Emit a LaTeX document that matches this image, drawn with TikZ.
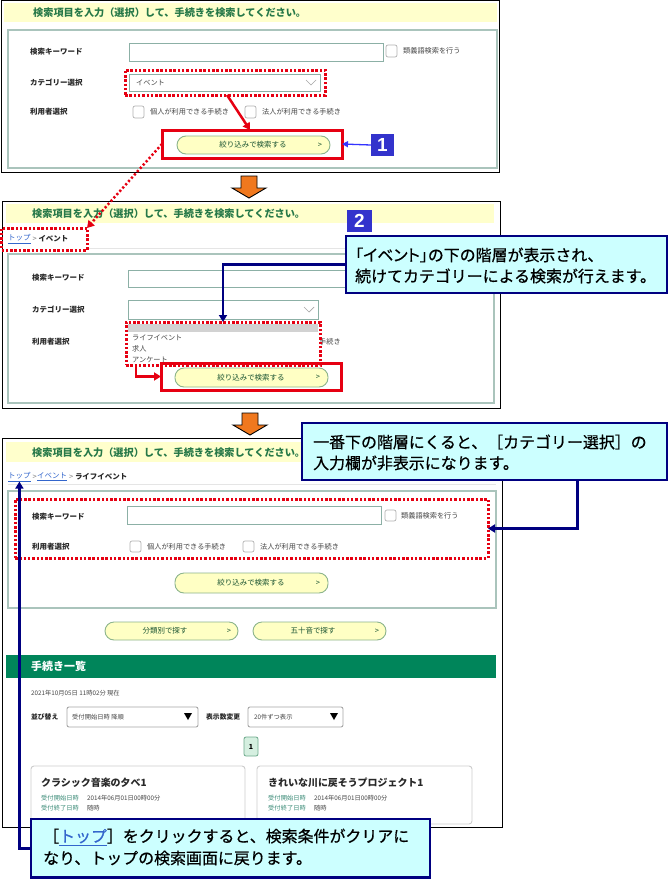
\documentclass[tikz,border=0pt]{standalone}
\usepackage{fontspec}
\setmainfont{Noto Sans CJK JP}
\newfontfamily\arialfont{Liberation Sans}
\newfontfamily\calfont{Noto Sans CJK JP}[FakeBold=0.6]
\newfontfamily\calpalt{Noto Sans CJK JP}[FakeBold=0.6,RawFeature=+palt]
\usetikzlibrary{arrows.meta,calc}
\definecolor{titlegreen}{RGB}{38,120,72}
\definecolor{ybarc}{RGB}{255,255,204}
\definecolor{boxgrey}{RGB}{170,196,188}
\definecolor{inputb}{RGB}{140,176,166}
\definecolor{btnfill}{RGB}{255,255,196}
\definecolor{btnb}{RGB}{140,180,140}
\definecolor{redc}{RGB}{230,0,18}
\definecolor{navyc}{RGB}{0,0,128}
\definecolor{cfill}{RGB}{204,255,255}
\definecolor{linkblue}{RGB}{51,102,204}
\definecolor{numblue}{RGB}{51,51,204}
\definecolor{arrblue}{RGB}{51,51,255}
\definecolor{orangec}{RGB}{240,120,30}
\definecolor{greenbar}{RGB}{0,133,90}
\definecolor{labeldark}{RGB}{40,40,40}
\definecolor{smgrey}{RGB}{70,70,70}
\definecolor{tealc}{RGB}{60,140,120}
\definecolor{pagefill}{RGB}{213,239,224}
\definecolor{pageb}{RGB}{110,170,140}
\newcommand{\bx}[6]{\node[#1,inner sep=0pt,outer sep=0pt,minimum width={(#4-(#2))*1bp},minimum height={(#5-(#3))*1bp}] (#6) at ({(#2+#4)/2},{(#3+#5)/2}) {};}
\begin{document}
\begin{tikzpicture}[x=1bp,y=-1bp,
  panel/.style={draw=black,line width=0.9bp,fill=white},
  ybar/.style={fill=ybarc},
  inner/.style={draw=boxgrey,line width=1.3bp},
  inp/.style={draw=inputb,line width=0.9bp,fill=white},
  cbox/.style={draw=gray!60,rounded corners=2bp,fill=white,line width=0.7bp},
  btn/.style={draw=btnb,fill=btnfill,rounded corners=9bp,line width=0.9bp},
  lbl/.style={font=\fontsize{7.5}{9}\selectfont\bfseries,text=labeldark,anchor=west,inner sep=0pt},
  sm/.style={font=\fontsize{7.2}{9}\selectfont,text=smgrey,anchor=west,inner sep=0pt},
  btxt/.style={font=\fontsize{7.5}{9}\selectfont,text=titlegreen!70!black,inner sep=0pt},
  ttl/.style={font=\fontsize{10.2}{12}\selectfont\bfseries,text=titlegreen,anchor=west,inner sep=0pt},
  callout/.style={draw=navyc,line width=2.6bp,fill=cfill},
  ctext/.style={font=\calfont\fontsize{16}{18}\selectfont,text=black,anchor=west,inner sep=0pt},
  redbox/.style={draw=redc,line width=3bp},
  reddot/.style={draw=redc,line width=3bp,dash pattern=on 2.5bp off 1.8bp},
  redarrow/.style={draw=redc,line width=2.5bp,-{Triangle[length=7bp,width=8bp]}},
  reddotarrow/.style={draw=redc,line width=2.5bp,dash pattern=on 2.2bp off 2.2bp,-{Triangle[length=7bp,width=8bp]}},
  navyarrow/.style={draw=navyc,line width=2.6bp,-{Triangle[length=7bp,width=8bp]}},
  thinblue/.style={draw=arrblue,line width=1.3bp,-{Triangle[length=6bp,width=6bp]}},
  numbox/.style={fill=numblue,text=white,font=\arialfont\fontsize{19}{20}\selectfont\bfseries,inner sep=0pt},
  chev/.style={draw=gray!70,line width=0.7bp},
  orangearrow/.style={draw=black,line width=0.9bp,fill=orangec},
  bclink/.style={font=\fontsize{7.5}{9}\selectfont,text=linkblue,anchor=west,inner sep=0pt},
  bctext/.style={font=\fontsize{7.5}{9}\selectfont,text=labeldark,anchor=west,inner sep=0pt},
  card/.style={draw=gray!40,line width=0.9bp,rounded corners=3bp,fill=white},
  cardt/.style={font=\fontsize{10}{12}\selectfont\bfseries,text=labeldark,anchor=west,inner sep=0pt},
  cardl/.style={font=\fontsize{6.3}{8}\selectfont,text=tealc,anchor=west,inner sep=0pt},
  cardv/.style={font=\fontsize{6.3}{8}\selectfont,text=smgrey,anchor=west,inner sep=0pt},
  seld/.style={draw=gray!70,line width=0.9bp,rounded corners=2bp,fill=white},
  sep/.style={draw=gray!20,line width=0.8bp}
]
\useasboundingbox[fill=white] (0,0) rectangle (669,879);

% ================= Panel 1 =================
\bx{panel}{1.5}{0.5}{499.5}{172}{p1}
\bx{ybar}{4}{2.5}{497}{22}{y1}
\node[ttl] (t1) at (33,12.5) {検索項目を入力（選択）して、手続きを検索してください。};
\bx{inner}{8}{30}{497}{168}{i1}
\node[lbl] (k1) at (30,52) {検索キーワード};
\bx{inp}{129}{43}{383}{61}{kin1}
\bx{cbox}{386}{45}{397}{57}{cb1}
\node[sm] (s1) at (403,51) {類義語検索を行う};
\node[lbl] (cl1) at (30,83) {カテゴリー選択};
\bx{inp}{129}{74}{320}{91}{dd1in}
\node[sm] (ev1) at (136,82.5) {イベント};
\draw[chev] (306,80) -- (311,85) -- (316,80);
\bx{reddot}{125}{70}{325}{95}{dd1}
\node[lbl] (u1) at (30,112) {利用者選択};
\bx{cbox}{133}{106}{144}{118}{cb2}
\node[sm] (ko1) at (150,112) {個人が利用できる手続き};
\bx{cbox}{245}{106}{256}{118}{cb3}
\node[sm] (ho1) at (262,112) {法人が利用できる手続き};
\bx{btn}{177}{136}{330}{154}{b1}
\node[btxt] (b1t) at (253,145) {絞り込みで検索する};
\node[btxt] (b1g) at (320,145) {>};
\bx{redbox}{162}{130}{342}{158}{rb1}
\node[numbox,minimum width=23bp,minimum height=22bp] (n1) at (382.5,145) {1};

% orange arrow 1
\draw[orangearrow] (241,176) -- (257,176) -- (257,188) -- (266,188) -- (249,198) -- (232,188) -- (241,188) -- cycle;

% ================= Panel 2 =================
\bx{panel}{2}{201}{500}{408}{p2}
\bx{ybar}{6}{204}{494}{223}{y2}
\node[ttl] (t2) at (32,213.5) {検索項目を入力（選択）して、手続きを検索してください。};
\node[bclink] (bc2a) at (8,239) {\underline{トップ}};
\node[bctext] (bc2b) at (bc2a.east) {\ {\color{gray}>}\ \textbf{イベント}};
\draw[sep] (88,248) -- (494,248);
\bx{inner}{8}{254}{494}{403}{i2}
\node[lbl] (k2) at (32,278) {検索キーワード};
\bx{inp}{128}{270}{420}{287}{kin2}
\node[lbl] (cl2) at (32,310) {カテゴリー選択};
\bx{inp}{128}{300}{318}{319}{dd2in}
\draw[chev] (304,307) -- (309,312) -- (314,307);
\node[lbl] (u2) at (32,342) {利用者選択};
\node[sm] (te2) at (319,342) {手続き};
\bx{btn}{175}{368}{328}{387}{b2}
\node[btxt] (b2t) at (251,377.5) {絞り込みで検索する};
\node[btxt] (b2g) at (318,377.5) {>};
% dropdown list
\bx{draw=none,fill=white}{126}{322}{320}{365}{lst}
\fill[gray!35] (128,324) rectangle (318,332);
\node[sm] (li1) at (132,338) {ライフイベント};
\node[sm] (li2) at (132,349) {求人};
\node[sm] (li3) at (132,359.5) {アンケート};
\bx{reddot}{126}{322}{320}{365}{dd2}
\bx{redbox}{161}{363}{341}{390}{rb2}
\bx{reddot}{1.5}{228}{87}{250}{bc2}
% callout 2
\bx{callout}{346}{236}{667}{293}{c2}
\node[ctext] (c2a) at (355,255) {{\calpalt「イベント」}の下の階層が表示され、};
\node[ctext] (c2b) at (355,276) {続けてカテゴリーによる検索が行えます。};
\node[numbox,minimum width=25bp,minimum height=22bp] (n2) at (359.5,221) {2};

% orange arrow 2
\draw[orangearrow] (242,413) -- (258,413) -- (258,425) -- (267,425) -- (250,435) -- (233,425) -- (242,425) -- cycle;

% ================= Panel 3 =================
\bx{panel}{2}{438}{502}{827}{p3}
\bx{ybar}{6}{442}{496}{462}{y3}
\node[ttl] (t3) at (32,452.5) {検索項目を入力（選択）して、手続きを検索してください。};
\node[bclink] (bc3a) at (8,477) {\underline{トップ}};
\node[bctext] (bc3b) at (bc3a.east) {\ {\color{gray}>}\ };
\node[bclink] (bc3c) at (bc3b.east) {\underline{イベント}};
\node[bctext] (bc3d) at (bc3c.east) {\ {\color{gray}>}\ \textbf{ライフイベント}};
\draw[sep] (8,484) -- (496,484);
\bx{inner}{8}{491}{496}{608}{i3}
\node[lbl] (k3) at (32,517) {検索キーワード};
\bx{inp}{127}{506}{381}{524}{kin3}
\bx{cbox}{385}{510}{396}{521}{cb4}
\node[sm] (s3) at (401,516) {類義語検索を行う};
\node[lbl] (u3) at (32,547) {利用者選択};
\bx{cbox}{130}{541}{141}{552}{cb5}
\node[sm] (ko3) at (147,547) {個人が利用できる手続き};
\bx{cbox}{243}{541}{254}{552}{cb6}
\node[sm] (ho3) at (260,547) {法人が利用できる手続き};
\bx{reddot}{15}{499}{488}{558}{dd3}
\bx{btn}{175}{573}{328}{593}{b3}
\node[btxt] (b3t) at (251,583) {絞り込みで検索する};
\node[btxt] (b3g) at (318,583) {>};
\bx{btn}{105}{622}{238}{640}{b4}
\node[btxt] (b4t) at (165,631) {分類別で探す};
\node[btxt] (b4g) at (229,631) {>};
\bx{btn}{253}{622}{386}{640}{b5}
\node[btxt] (b5t) at (313,631) {五十音で探す};
\node[btxt] (b5g) at (377,631) {>};
\bx{fill=greenbar}{6}{655}{496}{678}{gb}
\node[font=\fontsize{11}{13}\selectfont\bfseries,text=white,anchor=west,inner sep=0pt] (gbt) at (31,666.5) {手続き一覧};
\node[cardv] (dt) at (31,693) {2021年10月05日 11時02分 現在};
\node[lbl,font=\fontsize{6.8}{8}\selectfont\bfseries] (nb) at (31,717) {並び替え};
\bx{seld}{67}{707}{198}{727}{sel1}
\node[cardv] (sel1t) at (72,717) {受付開始日時 降順};
\fill[black] (184,713) -- (192,713) -- (188,720) -- cycle;
\node[lbl,font=\fontsize{6.8}{8}\selectfont\bfseries] (hy) at (206,717) {表示数変更};
\bx{seld}{248}{707}{343}{727}{sel2}
\node[cardv] (sel2t) at (254,717) {20件ずつ表示};
\fill[black] (330,713) -- (338,713) -- (334,720) -- cycle;
\node[draw=pageb,fill=pagefill,rounded corners=2bp,line width=0.8bp,minimum width=14bp,minimum height=19bp,inner sep=0pt,font=\fontsize{7}{8}\selectfont\bfseries] (pg) at (251,746.5) {1};
\bx{card}{31}{766}{245}{824}{cd1}
\node[cardt] (cd1t) at (41,783) {クラシック音楽の夕べ1};
\node[cardl] (cd1a) at (41,798) {受付開始日時};
\node[cardv] (cd1b) at (87,798) {2014年06月01日00時00分};
\node[cardl] (cd1c) at (41,808.5) {受付終了日時};
\node[cardv] (cd1d) at (87,808.5) {随時};
\bx{card}{257}{766}{472}{824}{cd2}
\node[cardt] (cd2t) at (268,783) {きれいな川に戻そうプロジェクト1};
\node[cardl] (cd2a) at (268,798) {受付開始日時};
\node[cardv] (cd2b) at (314,798) {2014年06月01日00時00分};
\node[cardl] (cd2c) at (268,808.5) {受付終了日時};
\node[cardv] (cd2d) at (314,808.5) {随時};

% callout 3
\bx{callout}{302}{423}{667}{480}{c3}
\node[ctext] (c3a) at (313,442) {一番下の階層にくると、［カテゴリー選択］の};
\node[ctext] (c3b) at (313,463) {入力欄が非表示になります。};
% callout 4
\bx{callout}{31}{819}{430}{877.5}{c4}
\node[ctext] (c4a) at (43,837) {［{\color{linkblue}\underline{トップ}}］をクリックすると、検索条件がクリアに};
\node[ctext] (c4b) at (43,858) {なり、トップの検索画面に戻ります。};

% ================= Connectors =================
\draw[thinblue] (n1.west) -- (rb1.east);
\draw[redarrow] ($(dd1.south)+(2,0)$) -- ($(rb1.north)+(-2,0)$);
\draw[reddotarrow] (rb1.west) -- (bc2.north east);
\draw[redarrow] ($(dd2.south west)+(10,0)$) |- (rb2.west);
\draw[navyarrow] (c2.west) -| (dd2.north);
\draw[navyarrow] ($(c3.south west)!0.755!(c3.south east)$) |- (dd3.east);
\draw[navyarrow] (c4.west) -| (bc3a.south);
\end{tikzpicture}
\end{document}
